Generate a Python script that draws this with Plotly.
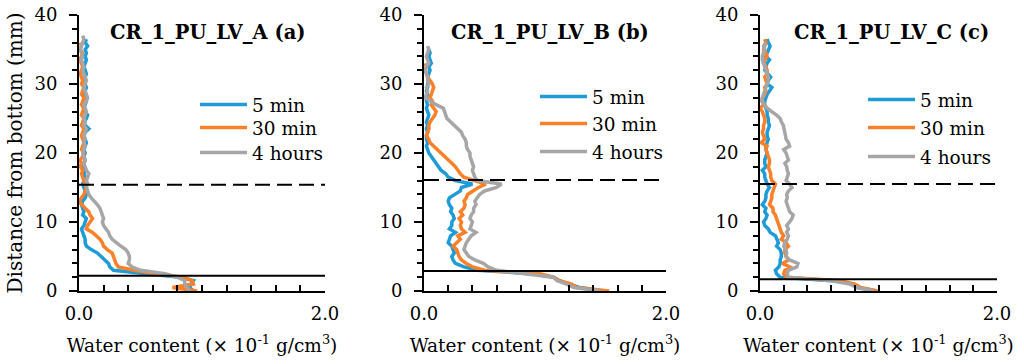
import plotly.graph_objects as go

# ---------------- data ----------------
series_names = ["5 min", "30 min", "4 hours"]
panel_titles = ["CR_1_PU_LV_A (a)", "CR_1_PU_LV_B (b)", "CR_1_PU_LV_C (c)"]
solid_levels = [2.2, 2.9, 1.7]      # mm, solid interface line
dashed_levels = [15.4, 16.1, 15.5]  # mm, dashed interface line

depth_a = [0.0, 0.5, 1.0, 1.5, 2.0, 2.5, 3.0, 3.5, 4.0, 4.5, 5.0, 5.5, 6.0, 6.5, 7.0, 7.5,
           8.0, 8.5, 9.0, 9.5, 10.0, 10.5, 11.0, 11.5, 12.0, 12.5, 13.0, 13.5, 14.0, 14.5,
           15.0, 15.5, 16.0, 16.5, 17.0, 17.5, 18.0, 18.5, 19.0, 19.5, 20.0, 20.5, 21.0,
           21.5, 22.0, 22.5, 23.0, 23.5, 24.0, 24.5, 25.0, 25.5, 26.0, 26.5, 27.0, 27.5,
           28.0, 28.5, 29.0, 29.5, 30.0, 30.5, 31.0, 31.5, 32.0, 32.5, 33.0, 33.5, 34.0,
           34.5, 35.0, 35.5, 36.0, 36.5, 37.0]
depth_b = depth_a[:72]
depth_c = depth_a[:74]

a_5min = [0.93, 0.90, 0.91, 0.93, 0.82, 0.55, 0.28, 0.25, 0.24, 0.21, 0.18, 0.15, 0.10, 0.06,
          0.05, 0.05, 0.04, 0.03, 0.02, 0.04, 0.05, 0.06, 0.03, 0.04, 0.03, 0.02, 0.03, 0.05,
          0.06, 0.05, 0.04, 0.03, 0.04, 0.05, 0.04, 0.05, 0.03, 0.04, 0.05, 0.04, 0.05, 0.04,
          0.05, 0.06, 0.05, 0.04, 0.05, 0.08, 0.05, 0.04, 0.06, 0.07, 0.05, 0.04, 0.05, 0.06,
          0.05, 0.04, 0.05, 0.06, 0.05, 0.04, 0.05, 0.06, 0.05, 0.04, 0.05, 0.06, 0.05, 0.06,
          0.05, 0.07, 0.05, 0.06]
a_30min = [0.96, 0.76, 0.93, 0.92, 0.85, 0.62, 0.45, 0.32, 0.30, 0.29, 0.28, 0.27, 0.23, 0.20,
           0.19, 0.17, 0.14, 0.11, 0.06, 0.07, 0.09, 0.11, 0.09, 0.08, 0.05, 0.02, 0.00, 0.02,
           0.04, 0.05, 0.06, 0.05, 0.04, 0.03, 0.02, 0.03, 0.01, 0.02, 0.01, 0.03, 0.04, 0.02,
           0.03, 0.04, 0.03, 0.02, 0.03, 0.04, 0.02, 0.03, 0.04, 0.02, 0.03, 0.04, 0.02, 0.03,
           0.04, 0.02, 0.03, 0.04, 0.02, 0.03, 0.02, 0.01, 0.02, 0.03, 0.02, 0.01, 0.02, 0.03,
           0.01, 0.02, 0.01]
a_4h = [0.90, 0.88, 0.86, 0.86, 0.80, 0.70, 0.50, 0.43, 0.40, 0.41, 0.41, 0.40, 0.38, 0.34,
        0.30, 0.27, 0.25, 0.24, 0.22, 0.20, 0.19, 0.20, 0.19, 0.18, 0.17, 0.15, 0.12, 0.10,
        0.08, 0.07, 0.06, 0.07, 0.06, 0.07, 0.08, 0.06, 0.05, 0.04, 0.05, 0.04, 0.03, 0.04,
        0.05, 0.04, 0.05, 0.04, 0.05, 0.06, 0.04, 0.05, 0.04, 0.05, 0.06, 0.05, 0.04, 0.06,
        0.07, 0.06, 0.05, 0.04, 0.05, 0.06, 0.05, 0.04, 0.03, 0.04, 0.03, 0.02, 0.03, 0.02,
        0.01, 0.02, 0.03, 0.04, 0.03]

b_5min = [1.48, 1.29, 1.20, 1.12, 1.07, 0.90, 0.44, 0.33, 0.26, 0.24, 0.23, 0.25, 0.24, 0.23,
          0.20, 0.21, 0.22, 0.26, 0.21, 0.23, 0.23, 0.25, 0.24, 0.22, 0.23, 0.21, 0.20, 0.21,
          0.25, 0.30, 0.31, 0.40, 0.26, 0.20, 0.18, 0.14, 0.12, 0.10, 0.08, 0.06, 0.04, 0.03,
          0.02, 0.03, 0.02, 0.02, 0.03, 0.02, 0.03, 0.02, 0.03, 0.04, 0.03, 0.02, 0.03, 0.02,
          0.02, 0.03, 0.02, 0.03, 0.03, 0.04, 0.03, 0.04, 0.05, 0.04, 0.06, 0.05, 0.04, 0.05,
          0.04]
b_30min = [1.53, 1.26, 1.22, 1.12, 1.07, 0.96, 0.50, 0.40, 0.35, 0.31, 0.29, 0.28, 0.27, 0.24,
           0.27, 0.30, 0.28, 0.34, 0.31, 0.30, 0.31, 0.29, 0.32, 0.30, 0.33, 0.34, 0.33, 0.35,
           0.36, 0.40, 0.45, 0.51, 0.41, 0.33, 0.30, 0.28, 0.26, 0.23, 0.20, 0.17, 0.15, 0.11,
           0.08, 0.05, 0.04, 0.02, 0.03, 0.04, 0.04, 0.05, 0.07, 0.09, 0.10, 0.08, 0.06, 0.07,
           0.05, 0.06, 0.07, 0.08, 0.07, 0.05, 0.03, 0.02, 0.01, 0.02, 0.01]
b_4h = [1.46, 1.24, 1.18, 1.10, 1.07, 0.85, 0.60, 0.53, 0.49, 0.42, 0.37, 0.35, 0.33, 0.34,
        0.35, 0.37, 0.39, 0.43, 0.38, 0.39, 0.40, 0.38, 0.39, 0.41, 0.41, 0.43, 0.42, 0.44,
        0.46, 0.50, 0.60, 0.64, 0.44, 0.42, 0.41, 0.40, 0.41, 0.40, 0.39, 0.38, 0.38, 0.36,
        0.35, 0.35, 0.34, 0.32, 0.31, 0.28, 0.26, 0.22, 0.19, 0.18, 0.17, 0.16, 0.10, 0.05,
        0.01, 0.02, 0.03, 0.02, 0.04, 0.03, 0.03, 0.02, 0.01, 0.02, 0.04, 0.03, 0.02, 0.03,
        0.04, 0.03]

c_5min = [0.99, 0.82, 0.79, 0.62, 0.17, 0.14, 0.13, 0.16, 0.17, 0.17, 0.18, 0.18, 0.17, 0.14,
          0.155, 0.14, 0.13, 0.085, 0.07, 0.04, 0.03, 0.05, 0.06, 0.04, 0.05, 0.02, 0.04, 0.05,
          0.05, 0.06, 0.08, 0.06, 0.05, 0.04, 0.04, 0.02, 0.05, 0.04, 0.04, 0.05, 0.06, 0.05,
          0.05, 0.06, 0.07, 0.06, 0.06, 0.07, 0.08, 0.07, 0.07, 0.06, 0.06, 0.05, 0.04, 0.04,
          0.05, 0.06, 0.08, 0.10, 0.06, 0.07, 0.09, 0.06, 0.04, 0.05, 0.06, 0.08, 0.05, 0.06,
          0.07, 0.085, 0.07, 0.06]
c_30min = [0.99, 0.85, 0.80, 0.68, 0.22, 0.20, 0.21, 0.25, 0.19, 0.24, 0.22, 0.21, 0.21, 0.24,
           0.22, 0.18, 0.20, 0.18, 0.17, 0.16, 0.155, 0.14, 0.13, 0.11, 0.11, 0.08, 0.09, 0.10,
           0.10, 0.11, 0.12, 0.13, 0.10, 0.09, 0.09, 0.08, 0.07, 0.08, 0.08, 0.07, 0.06, 0.05,
           0.06, 0.01, 0.04, 0.03, 0.02, 0.03, 0.03, 0.04, 0.04, 0.03, 0.02, 0.00, 0.03, 0.02,
           0.02, 0.04, 0.05, 0.04, 0.06, 0.05, 0.04, 0.06, 0.06, 0.05, 0.03, 0.04, 0.06, 0.05,
           0.03, 0.04, 0.05, 0.04]
c_4h = [0.96, 0.82, 0.76, 0.59, 0.24, 0.23, 0.24, 0.31, 0.32, 0.25, 0.22, 0.225, 0.22, 0.20,
        0.21, 0.23, 0.24, 0.225, 0.24, 0.225, 0.25, 0.27, 0.28, 0.25, 0.24, 0.23, 0.22, 0.23,
        0.225, 0.24, 0.27, 0.25, 0.22, 0.23, 0.24, 0.23, 0.225, 0.21, 0.24, 0.23, 0.22, 0.20,
        0.25, 0.24, 0.22, 0.215, 0.21, 0.20, 0.197, 0.18, 0.17, 0.14, 0.10, 0.06, 0.04, 0.014,
        0.02, 0.03, 0.04, 0.05, 0.06, 0.07, 0.07, 0.06, 0.05, 0.04, 0.03, 0.02, 0.02, 0.03,
        0.04, 0.03, 0.05]

panel_depths = [depth_a, depth_b, depth_c]
panel_values = [[a_5min, a_30min, a_4h], [b_5min, b_30min, b_4h], [c_5min, c_30min, c_4h]]

# ---------------- styling ----------------
FONT = "DejaVu Serif"
colors = ["#1f9bd8", "#fa8129", "#a6a6a6"]
W_FIG, H_FIG = 1024, 364
L, R, T, B = 79, 27, 15, 73
PW, PH = W_FIG - L - R, H_FIG - T - B


def px_x(px):
    return (px - L) / PW


def px_y(py):
    return (H_FIG - B - py) / PH


x_px = [(79, 325), (424, 666), (760, 997)]
title_px = [208, 550, 891]
legend_x_px = [195, 535, 863]
legend_rows_px = [(105, 128, 153), (97, 124, 152), (100, 128, 157)]

fig = go.Figure()
for i in range(3):
    suffix = "" if i == 0 else str(i + 1)
    for j, name in enumerate(series_names):
        k = i * 3 + j + 1
        leg = "legend" if k == 1 else "legend" + str(k)
        vals = panel_values[i][j]
        fig.add_trace(go.Scatter(
            x=vals, y=panel_depths[i][:len(vals)], mode="lines", name=name,
            line=dict(color=colors[j], width=3.5),
            xaxis="x" + suffix, yaxis="y" + suffix, legend=leg,
        ))
        fig.layout[leg] = dict(
            x=px_x(legend_x_px[i]), y=px_y(legend_rows_px[i][j]), xanchor="left",
            yanchor="middle", bgcolor="rgba(0,0,0,0)", borderwidth=0, itemwidth=47,
            font=dict(family=FONT, size=18.5, color="black"),
        )
    ax_common = dict(showgrid=False, zeroline=False, showline=True, linecolor="black",
                     linewidth=2, tickcolor="black",
                     tickfont=dict(family=FONT, size=18, color="black"))
    fig.layout["xaxis" + suffix] = dict(
        ax_common, domain=[px_x(x_px[i][0]), px_x(x_px[i][1])], range=[0, 2],
        anchor="y" + suffix, tickmode="array", tickvals=[0, 2], ticktext=["0.0", "2.0"],
        ticks="inside", ticklen=6, tickwidth=2, ticklabelstandoff=5,
        minor=dict(tickmode="linear", tick0=0, dtick=0.2, ticks="inside", ticklen=6,
                   tickwidth=2, tickcolor="black", showgrid=False),
        title=dict(text="Water content (× 10<sup>-1</sup> g/cm<sup>3</sup>)",
                   font=dict(family=FONT, size=18.5, color="black"), standoff=16),
    )
    fig.layout["yaxis" + suffix] = dict(
        ax_common, domain=[0, 1], range=[0, 40], anchor="x" + suffix,
        tickmode="array", tickvals=[0, 10, 20, 30, 40], ticks="outside", ticklen=8,
        tickwidth=2, ticklabelstandoff=8,
        minor=dict(tickmode="linear", tick0=0, dtick=2, ticks="outside", ticklen=5,
                   tickwidth=1.5, tickcolor="black", showgrid=False),
        title=dict(text="Distance from bottom (mm)" if i == 0 else "",
                   font=dict(family=FONT, size=20, color="black"), standoff=6),
    )
    fig.add_annotation(
        x=px_x(title_px[i]), y=px_y(33), xref="paper", yref="paper",
        text="<b>" + panel_titles[i] + "</b>",
        showarrow=False, xanchor="center", yanchor="middle",
        font=dict(family=FONT, size=19.5, color="black"),
    )
    fig.add_shape(type="line", xref="x" + suffix, yref="y" + suffix, x0=0, x1=2,
                  y0=solid_levels[i], y1=solid_levels[i], line=dict(color="black", width=2))
    fig.add_shape(type="line", xref="x" + suffix, yref="y" + suffix, x0=0, x1=2,
                  y0=dashed_levels[i], y1=dashed_levels[i],
                  line=dict(color="black", width=2, dash="15px,7px"))

fig.update_layout(
    width=W_FIG, height=H_FIG, margin=dict(l=L, r=R, t=T, b=B, autoexpand=False),
    paper_bgcolor="white", plot_bgcolor="white", showlegend=True,
    font=dict(family=FONT, size=18, color="black"),
)
fig.write_html("out.html", config={"displayModeBar": False},
               post_script="document.body.style.margin='0px';")
